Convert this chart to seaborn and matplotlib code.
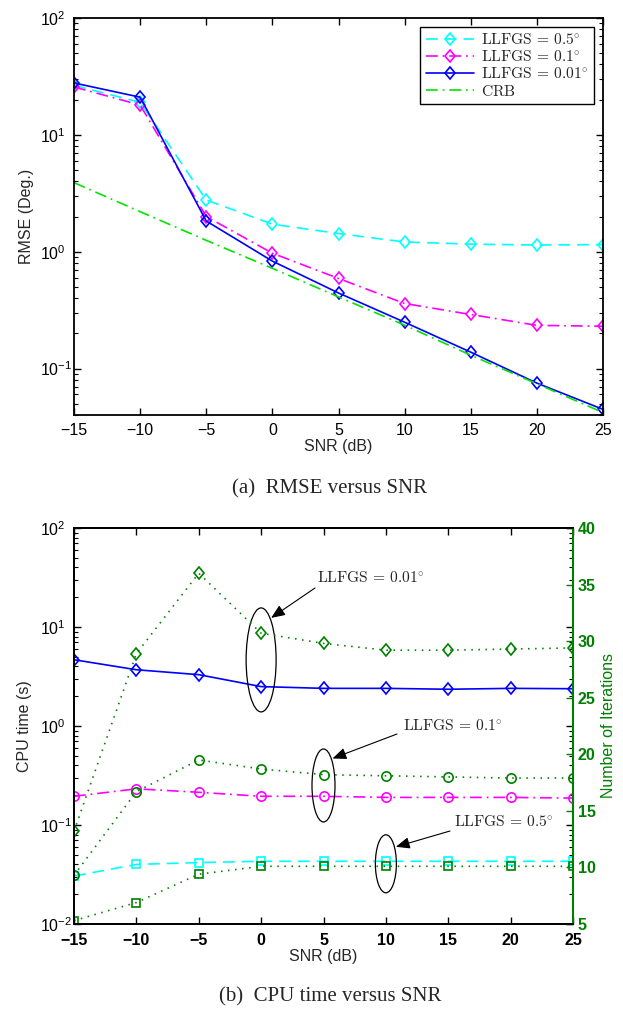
import matplotlib
matplotlib.use("Agg")
import matplotlib.pyplot as plt
from matplotlib.markers import MarkerStyle
from matplotlib.patches import Ellipse
from matplotlib.ticker import LogLocator, NullFormatter, FixedLocator
from matplotlib.transforms import Affine2D
import seaborn as sns

# ---------------------------------------------------------------- data
snr = [-15, -10, -5, 0, 5, 10, 15, 20, 25]

# (a) RMSE in degrees
rmse_05 = [26.5, 19.0, 2.77, 1.72, 1.43, 1.21, 1.16, 1.14, 1.15]
rmse_01 = [25.7, 18.0, 2.0, 0.97, 0.59, 0.36, 0.29, 0.234, 0.23]
rmse_001 = [27.8, 21.0, 1.83, 0.83, 0.443, 0.249, 0.138, 0.075, 0.0447]
crb = [3.9, 2.2, 1.25, 0.72, 0.41, 0.235, 0.13, 0.074, 0.042]

# (b) CPU time in seconds (left axis)
cpu_05 = [0.0305, 0.040, 0.0417, 0.043, 0.043, 0.043, 0.043, 0.043, 0.043]
cpu_01 = [0.195, 0.232, 0.214, 0.195, 0.195, 0.19, 0.19, 0.19, 0.187]
cpu_001 = [4.67, 3.7, 3.3, 2.5, 2.4, 2.4, 2.35, 2.4, 2.38]

# (b) number of iterations (right axis)
iter_05 = [5.3, 6.9, 9.4, 10.1, 10.1, 10.1, 10.1, 10.1, 10.1]
iter_01 = [9.3, 16.7, 19.5, 18.7, 18.2, 18.1, 18.0, 17.9, 17.9]
iter_001 = [13.2, 28.9, 36.0, 30.7, 29.8, 29.2, 29.2, 29.3, 29.4]

snr_ticks = [-15, -10, -5, 0, 5, 10, 15, 20, 25]
rmse_exps = [-1, 0, 1, 2]
cpu_exps = [-2, -1, 0, 1, 2]
iter_ticks = [5, 10, 15, 20, 25, 30, 35, 40]

labels = [r"$\mathrm{LLFGS}\,=\,0.5^{\circ}$",
          r"$\mathrm{LLFGS}\,=\,0.1^{\circ}$",
          r"$\mathrm{LLFGS}\,=\,0.01^{\circ}$",
          r"$\mathrm{CRB}$"]

# ---------------------------------------------------------------- style
sns.set_style("ticks")
plt.rcParams.update({
    "font.family": ["Liberation Sans", "DejaVu Sans"],
    "font.size": 11.5,
    "mathtext.fontset": "custom",
    "mathtext.rm": "Liberation Sans",
    "mathtext.it": "Liberation Sans:italic",
    "mathtext.bf": "Liberation Sans:bold",
    "axes.linewidth": 1.3,
    "axes.edgecolor": "black",
    "xtick.direction": "in",
    "ytick.direction": "in",
    "xtick.color": "black",
    "ytick.color": "black",
    "lines.scale_dashes": False,
    "axes.unicode_minus": True,
})

CYAN, MAGENTA, BLUE = "#00ffff", "#ff00ff", "#0000ff"
LIME, DKGREEN = "#00e400", "#008000"

DASH = (0, (8.5, 5))
DASHDOT = (0, (8.5, 3.5, 1.3, 3.5))
DOTTED = (0, (1.1, 4.0))

diamond = MarkerStyle("D", transform=Affine2D().scale(0.78, 1.0))

W, H = 623, 1009
fig = plt.figure(figsize=(W / 100, H / 100), dpi=100)
fig.patch.set_facecolor("white")


def box(left, top, right, bottom):
    return [left / W, 1 - bottom / H, (right - left) / W, (bottom - top) / H]


def fig_xy(x, y):
    return (x / W, 1 - y / H)


def minus(v):
    return str(v).replace("-", "\u2212")


def style_log_axis(ax, exps, pad):
    ax.set_yticks([10.0 ** e for e in exps],
                  labels=[r"$10^{%d}$" % e for e in exps], ha="left")
    ax.yaxis.set_minor_locator(LogLocator(base=10, subs=range(2, 10), numticks=20))
    ax.yaxis.set_minor_formatter(NullFormatter())
    ax.tick_params(axis="y", which="major", length=5, width=1.0, pad=pad)
    ax.tick_params(axis="y", which="minor", length=3, width=0.8)


def line(ax, y, color, ls, marker=None, ms=6.6, lw=1.2, label=None):
    kw = dict(x=snr, y=y, ax=ax, color=color, linestyle=ls, linewidth=lw,
              label=label, legend=False)
    if marker is not None:
        kw.update(marker=marker, markersize=ms, markerfacecolor="none",
                  markeredgecolor=color, markeredgewidth=1.2)
    sns.lineplot(**kw)


# ---------------------------------------------------------------- (a) RMSE
ax1 = fig.add_axes(box(74, 18, 603, 415))
ax1.set_yscale("log")
line(ax1, rmse_05, CYAN, DASH, diamond, label=labels[0])
line(ax1, rmse_01, MAGENTA, DASHDOT, diamond, label=labels[1])
line(ax1, rmse_001, BLUE, "-", diamond, label=labels[2])
line(ax1, crb, LIME, DASHDOT, None, label=labels[3])

ax1.set_xlim(-15, 25)
ax1.set_ylim(0.04, 100)
ax1.set_xticks(snr_ticks, labels=[minus(t) for t in snr_ticks])
style_log_axis(ax1, rmse_exps, pad=24.5)
ax1.tick_params(axis="x", which="major", length=5, width=1.0, pad=5.5)
ax1.tick_params(which="both", top=True, right=True)
ax1.set_xlabel("SNR (dB)")
ax1.set_ylabel("RMSE (Deg.)")
ax1.xaxis.set_label_coords(0.5, -0.060)
ax1.yaxis.set_label_coords(-0.076, 0.5)

leg = ax1.legend(loc="upper right", bbox_to_anchor=(1 - 9 / 529, 1 - 9 / 397),
                 borderaxespad=0, frameon=True, fancybox=False, framealpha=1,
                 edgecolor="black", handlelength=3.1, handletextpad=0.45,
                 labelspacing=0.13, borderpad=0.35, fontsize=11.2)
leg.get_frame().set_linewidth(1.0)
for t in leg.get_texts():
    t.set_math_fontfamily("cm")

# ---------------------------------------------------------------- (b) CPU time
ax2 = fig.add_axes(box(74, 528, 573, 924))
ax2.set_yscale("log")
ax3 = ax2.twinx()

line(ax3, iter_001, DKGREEN, DOTTED, diamond)
line(ax3, iter_01, DKGREEN, DOTTED, "o", ms=6.7)
line(ax3, iter_05, DKGREEN, DOTTED, "s", ms=5.8)

line(ax2, cpu_001, BLUE, "-", diamond)
line(ax2, cpu_01, MAGENTA, DASHDOT, "o", ms=6.7)
line(ax2, cpu_05, CYAN, DASH, "s", ms=5.8)

ax2.set_xlim(-15, 25)
ax2.set_ylim(1e-2, 1e2)
ax3.set_ylim(5, 40)
ax2.set_xticks(snr_ticks, labels=[minus(t) for t in snr_ticks], fontweight="bold")
style_log_axis(ax2, cpu_exps, pad=24.5)
ax2.tick_params(axis="x", which="major", length=5, width=1.0, pad=6.5)
ax2.tick_params(which="both", top=True, right=True, left=True)
ax2.spines["right"].set_visible(False)
ax2.set_xlabel("SNR (dB)")
ax2.set_ylabel("CPU time (s)")
ax2.xaxis.set_label_coords(0.5, -0.062)
ax2.yaxis.set_label_coords(-0.084, 0.5)

ax3.set_yticks(iter_ticks, labels=[str(t) for t in iter_ticks],
               fontweight="bold", color=DKGREEN)
ax3.yaxis.set_minor_locator(FixedLocator([]))
ax3.tick_params(axis="y", which="major", length=5, width=1.0, pad=3.5,
                colors=DKGREEN, direction="in")
ax3.spines["right"].set_color(DKGREEN)
ax3.spines["right"].set_linewidth(1.5)
ax3.set_ylabel("Number of Iterations", color=DKGREEN)
ax3.yaxis.set_label_coords(1.056, 0.5)

# ---------------------------------------------------------------- call-outs
to_axes = ax2.transAxes.inverted()
bw = ax2.bbox.width
bh = ax2.bbox.height

callouts = [
    # (snr, cpu series, iteration series, ellipse size px, head offset px,
    #  tail position px, text position px, label)
    (0, cpu_001, iter_001, (30, 104), (10, 42), (315, 588), (317, 577), labels[2]),
    (5, cpu_01, iter_01, (23, 73), (9, 27), (397, 734), (403, 725), labels[1]),
    (10, cpu_05, iter_05, (21, 58), (10, 17), (450, 831), (454, 822), labels[0]),
]
for s, cpu, it, (ew, eh), (hx, hy), tail, tpos, txt in callouts:
    i = snr.index(s)
    px1, py1 = ax2.transData.transform((s, cpu[i]))
    _, py2 = ax3.transData.transform((s, it[i]))
    cx, cy = px1, 0.5 * (py1 + py2)
    c_ax = to_axes.transform((cx, cy))
    ax2.add_patch(Ellipse(c_ax, ew / bw, eh / bh, transform=ax2.transAxes,
                          fill=False, edgecolor="black", linewidth=0.9,
                          zorder=5, clip_on=False))
    head_ax = to_axes.transform((cx + hx, cy + hy))
    ax2.annotate("", xy=head_ax, xycoords="axes fraction",
                 xytext=fig_xy(*tail), textcoords="figure fraction",
                 arrowprops=dict(arrowstyle="-|>,head_length=0.6,head_width=0.25",
                                 color="black", lw=0.8, shrinkA=0, shrinkB=0,
                                 mutation_scale=14),
                 zorder=6)
    t = fig.text(*fig_xy(*tpos), txt, ha="left", va="center", fontsize=11.2)
    t.set_math_fontfamily("cm")

# ---------------------------------------------------------------- captions
fig.text(*fig_xy(330, 489), "(a)  RMSE versus SNR", ha="center", va="center",
         family="Liberation Serif", fontsize=15)
fig.text(*fig_xy(330, 997), "(b)  CPU time versus SNR", ha="center", va="center",
         family="Liberation Serif", fontsize=15)

fig.savefig("out.png", dpi=100, facecolor="white")
